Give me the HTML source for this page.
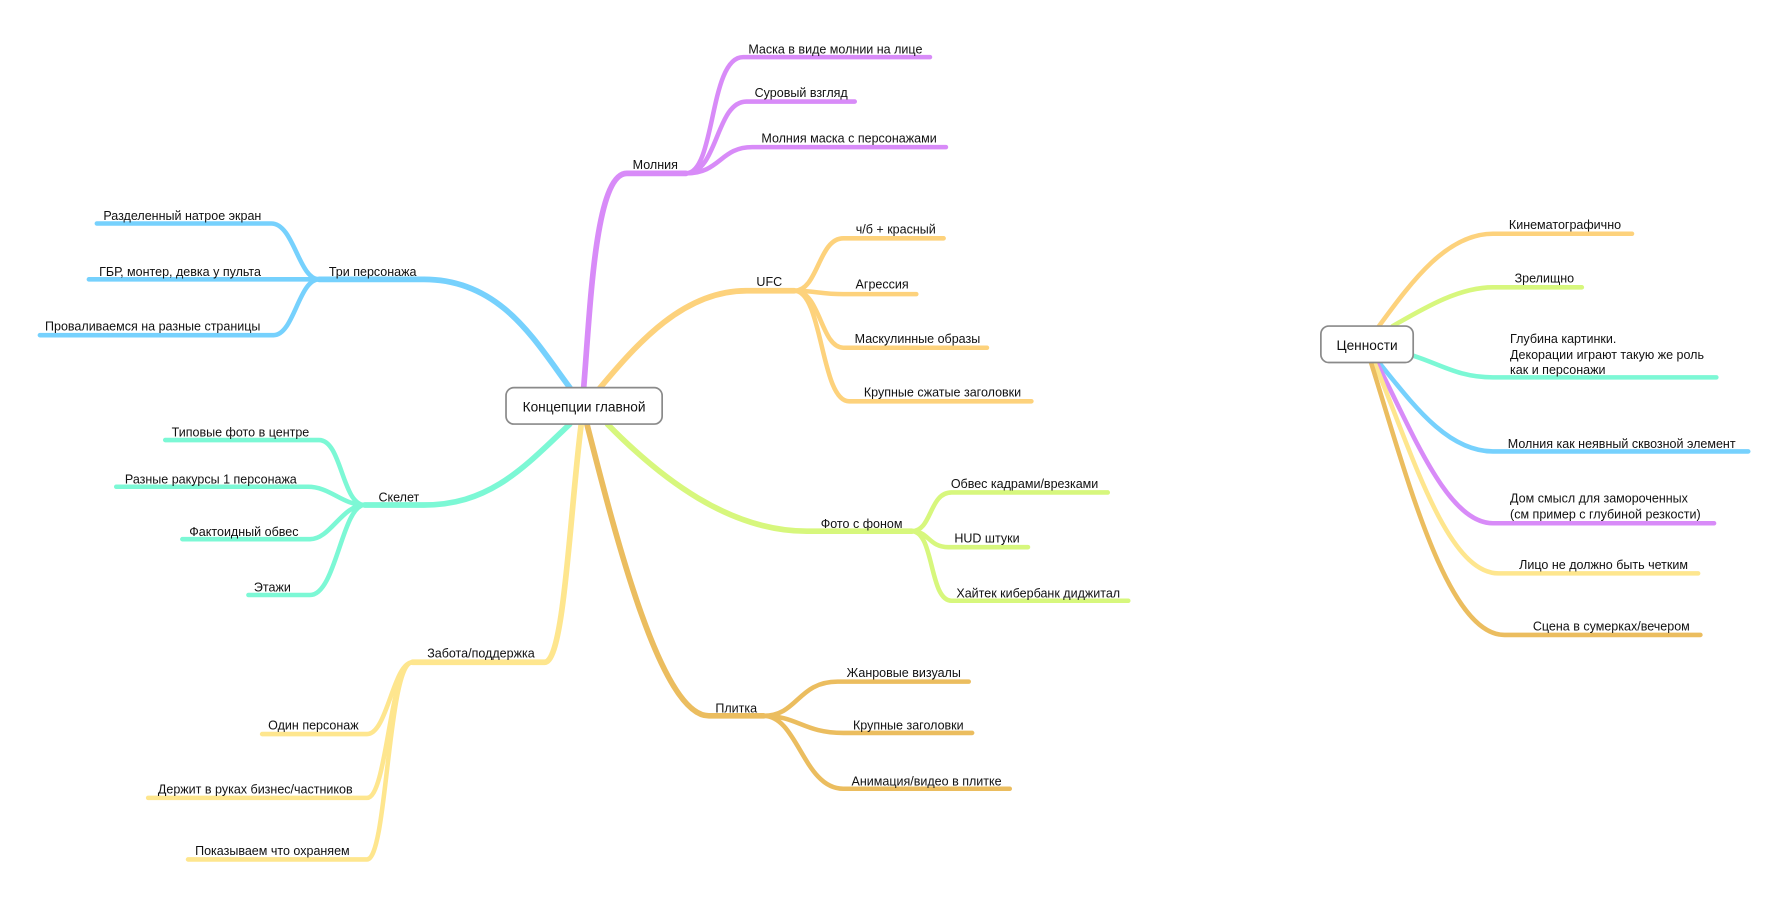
<!DOCTYPE html>
<html><head><meta charset="utf-8"><style>
html,body{margin:0;padding:0;background:#fff;}
svg{display:block;}
text{font-family:"Liberation Sans","DejaVu Sans",sans-serif;font-size:11px;fill:#111;}
path{fill:none;stroke-linecap:round;stroke-linejoin:round;}
</style></head><body>
<svg width="1787" height="904" viewBox="0 0 1568 793" xmlns="http://www.w3.org/2000/svg">
<!-- Молния purple -->
<g stroke="#d88bf8">
<path stroke-width="5" d="M512,342 C518,270 522,152 550,152 L602,152"/>
<path stroke-width="4" d="M602,152 C628,152 622,50 652,50 L816,50"/>
<path stroke-width="4" d="M602,152 C630,152 628,89 655,89 L750,89"/>
<path stroke-width="4" d="M602,152 C632,152 632,129 660,129 L830,129"/>
</g>
<!-- UFC orange -->
<g stroke="#fdd27c">
<path stroke-width="5" d="M525,342 C560,300 600,255 655,255 L697,255"/>
<path stroke-width="4" d="M697,255 C718,255 718,209 740,209 L828,209"/>
<path stroke-width="4" d="M697,255 C715,255 720,258 740,258 L804,258"/>
<path stroke-width="4" d="M697,255 C720,255 720,305 740,305 L866,305"/>
<path stroke-width="4" d="M697,255 C722,255 720,352 745,352 L905,352"/>
</g>
<!-- Фото с фоном green-yellow -->
<g stroke="#d7f77d">
<path stroke-width="5" d="M533,372 C580,420 640,466 708,466 L800,466"/>
<path stroke-width="4" d="M800,466 C818,466 815,432 835,432 L972,432"/>
<path stroke-width="4" d="M800,466 C815,466 815,480 832,480 L902,480"/>
<path stroke-width="4" d="M800,466 C820,466 815,527 835,527 L990,527"/>
</g>
<!-- Плитка gold -->
<g stroke="#ebbd5f">
<path stroke-width="5" d="M515,372 C540,470 580,628 622,628 L670,628"/>
<path stroke-width="4" d="M670,628 C700,628 700,598 735,598 L850,598"/>
<path stroke-width="4" d="M670,628 C700,628 705,643 740,643 L853,643"/>
<path stroke-width="4" d="M670,628 C700,628 705,692 740,692 L886,692"/>
</g>
<!-- Забота yellow -->
<g stroke="#fee68e">
<path stroke-width="5" d="M510,372 C500,450 495,581 478,581 L362,581"/>
<path stroke-width="4" d="M362,581 C345,581 340,644 322,644 L230,644"/>
<path stroke-width="4" d="M362,581 C342,581 340,700 322,700 L130,700"/>
<path stroke-width="4" d="M362,581 C340,581 340,754 322,754 L165,754"/>
</g>
<!-- Скелет aqua -->
<g stroke="#7cf8d5">
<path stroke-width="5" d="M500,372 C460,410 430,443 372,443 L320,443"/>
<path stroke-width="4" d="M320,443 C300,443 300,386 280,386 L145,386"/>
<path stroke-width="4" d="M320,443 C300,443 290,427 270,427 L102,427"/>
<path stroke-width="4" d="M320,443 C300,443 290,473 272,473 L160,473"/>
<path stroke-width="4" d="M320,443 C300,443 295,522 272,522 L218,522"/>
</g>
<!-- Три персонажа blue -->
<g stroke="#76d1fd">
<path stroke-width="5" d="M500,340 C470,300 440,245 372,245 L280,245"/>
<path stroke-width="4" d="M280,245 C262,245 258,196 238,196 L85,196"/>
<path stroke-width="4" d="M280,245 L78,245"/>
<path stroke-width="4" d="M280,245 C262,245 258,294 240,294 L35,294"/>
</g>
<!-- Ценности branches -->
<path stroke="#fdd27c" stroke-width="4" d="M1210,286 C1240,245 1270,205 1310,205 L1432,205"/>
<path stroke="#d7f77d" stroke-width="4" d="M1222,286 C1250,270 1280,252 1310,252 L1388,252"/>
<path stroke="#7cf8d5" stroke-width="4" d="M1240,312 C1265,320 1280,331 1310,331 L1506,331"/>
<path stroke="#76d1fd" stroke-width="4" d="M1210,318 C1240,355 1270,396 1310,396 L1534,396"/>
<path stroke="#d88bf8" stroke-width="4" d="M1208,318 C1240,380 1270,459 1310,459 L1504,459"/>
<path stroke="#fee68e" stroke-width="4" d="M1206,318 C1240,400 1270,503 1315,503 L1490,503"/>
<path stroke="#ebbd5f" stroke-width="4" d="M1203,318 C1235,420 1270,557 1320,557 L1492,557"/>
<!-- boxes -->
<rect x="444" y="340" width="137" height="32" rx="7" fill="#fff" stroke="#8a8a8a" stroke-width="1.5"/>
<text x="512.5" y="361" text-anchor="middle" style="font-size:12px">Концепции главной</text>
<rect x="1159" y="286" width="81" height="32" rx="7" fill="#fff" stroke="#8a8a8a" stroke-width="1.5"/>
<text x="1199.5" y="307" text-anchor="middle" style="font-size:12px">Ценности</text>
<!-- labels -->
<text x="575" y="148" text-anchor="middle">Молния</text>
<text x="733" y="47" text-anchor="middle">Маска в виде молнии на лице</text>
<text x="703" y="85" text-anchor="middle">Суровый взгляд</text>
<text x="745" y="125" text-anchor="middle">Молния маска с персонажами</text>
<text x="675" y="251" text-anchor="middle">UFC</text>
<text x="786" y="205" text-anchor="middle">ч/б + красный</text>
<text x="774" y="253" text-anchor="middle">Агрессия</text>
<text x="805" y="301" text-anchor="middle">Маскулинные образы</text>
<text x="827" y="348" text-anchor="middle">Крупные сжатые заголовки</text>
<text x="756" y="463" text-anchor="middle">Фото с фоном</text>
<text x="899" y="428" text-anchor="middle">Обвес кадрами/врезками</text>
<text x="866" y="476" text-anchor="middle">HUD штуки</text>
<text x="911" y="524" text-anchor="middle">Хайтек кибербанк диджитал</text>
<text x="646" y="625" text-anchor="middle">Плитка</text>
<text x="793" y="594" text-anchor="middle">Жанровые визуалы</text>
<text x="797" y="640" text-anchor="middle">Крупные заголовки</text>
<text x="813" y="689" text-anchor="middle">Анимация/видео в плитке</text>
<text x="422" y="577" text-anchor="middle">Забота/поддержка</text>
<text x="275" y="640" text-anchor="middle">Один персонаж</text>
<text x="224" y="696" text-anchor="middle">Держит в руках бизнес/частников</text>
<text x="239" y="750" text-anchor="middle">Показываем что охраняем</text>
<text x="350" y="440" text-anchor="middle">Скелет</text>
<text x="211" y="383" text-anchor="middle">Типовые фото в центре</text>
<text x="185" y="424" text-anchor="middle">Разные ракурсы 1 персонажа</text>
<text x="214" y="470" text-anchor="middle">Фактоидный обвес</text>
<text x="239" y="519" text-anchor="middle">Этажи</text>
<text x="327" y="242" text-anchor="middle">Три персонажа</text>
<text x="160" y="193" text-anchor="middle">Разделенный натрое экран</text>
<text x="158" y="242" text-anchor="middle">ГБР, монтер, девка у пульта</text>
<text x="134" y="290" text-anchor="middle">Проваливаемся на разные страницы</text>
<text x="1324" y="201">Кинематографично</text>
<text x="1329" y="248">Зрелищно</text>
<text x="1325" y="301">Глубина картинки.</text>
<text x="1325" y="315">Декорации играют такую же роль</text>
<text x="1325" y="328">как и персонажи</text>
<text x="1323" y="393">Молния как неявный сквозной элемент</text>
<text x="1325" y="441">Дом смысл для замороченных</text>
<text x="1325" y="455">(см пример с глубиной резкости)</text>
<text x="1333" y="499">Лицо не должно быть четким</text>
<text x="1345" y="553">Сцена в сумерках/вечером</text>
</svg>
</body></html>
